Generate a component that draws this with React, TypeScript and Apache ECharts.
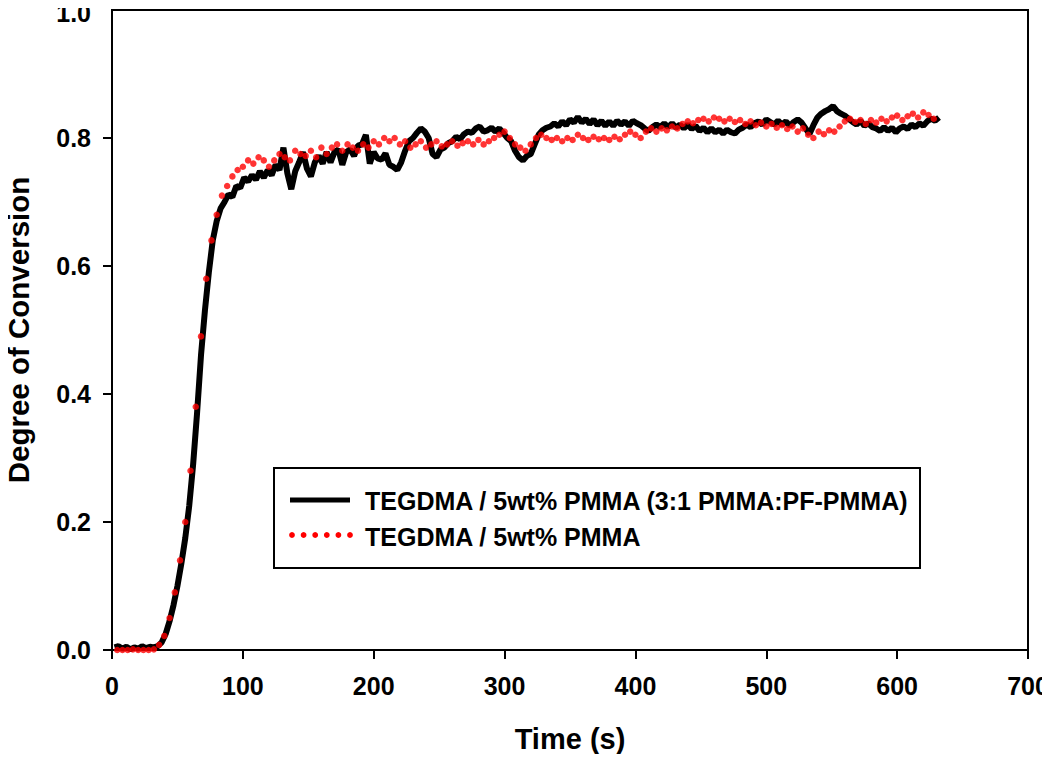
import React, { useEffect, useRef } from "react";
import * as echarts from "echarts";

// X ticks / Y ticks
const X_MIN = 0, X_MAX = 700, X_STEP = 100;
const Y_MIN = 0, Y_MAX = 1.0, Y_STEP = 0.2;

const X_TITLE = "Time (s)";
const Y_TITLE = "Degree of Conversion";
const SERIES_NAMES = ["TEGDMA / 5wt% PMMA (3:1 PMMA:PF-PMMA)", "TEGDMA / 5wt% PMMA"];

// Black series: sampled every 3 s starting at 2 s
const BLACK_T0 = 2, BLACK_DT = 3;
const blackValues = [
  0.004, 0.006, 0.002, 0.005, 0.001, 0.004, 0.002, 0.006, 0.003, 0.005, 0.004, 0.006,
  0.012, 0.025, 0.045, 0.07, 0.10, 0.135, 0.175, 0.225, 0.29, 0.37, 0.46, 0.53, 0.59, 0.64, 0.67,
  0.69, 0.70, 0.712, 0.708, 0.725, 0.722, 0.738,
  0.732, 0.742, 0.735, 0.748, 0.738, 0.75, 0.742, 0.758, 0.75, 0.785, 0.745, 0.72, 0.748, 0.762, 0.778,
  0.752, 0.74, 0.762, 0.772, 0.76, 0.778, 0.762, 0.778, 0.782, 0.758, 0.778, 0.782, 0.772, 0.788, 0.79,
  0.805, 0.76, 0.778, 0.768, 0.766, 0.776, 0.758, 0.755, 0.75, 0.762, 0.78, 0.795, 0.80, 0.808, 0.815,
  0.81, 0.80, 0.775, 0.77, 0.782, 0.785, 0.792, 0.795, 0.802, 0.798, 0.806, 0.81, 0.808, 0.815, 0.818,
  0.81, 0.812, 0.816, 0.81, 0.815, 0.808, 0.80, 0.795, 0.78, 0.77, 0.765, 0.772, 0.775, 0.79, 0.805,
  0.812, 0.816, 0.818, 0.823, 0.818, 0.826, 0.82, 0.829, 0.824, 0.833, 0.824, 0.83, 0.822, 0.829,
  0.82, 0.827, 0.819, 0.826, 0.819, 0.827, 0.821, 0.826, 0.819, 0.827, 0.823, 0.82, 0.815, 0.811,
  0.817, 0.821, 0.817, 0.823, 0.817, 0.823, 0.816, 0.821, 0.815, 0.821, 0.814, 0.819, 0.811, 0.816,
  0.809, 0.815, 0.809, 0.813, 0.807, 0.813, 0.809, 0.807, 0.813, 0.816, 0.821, 0.817, 0.823, 0.826,
  0.821, 0.829, 0.825, 0.821, 0.827, 0.821, 0.826, 0.819, 0.825, 0.829, 0.824, 0.815, 0.806, 0.82,
  0.832, 0.838, 0.842, 0.845, 0.85, 0.842, 0.838, 0.835, 0.83, 0.825, 0.821, 0.827, 0.819, 0.823,
  0.817, 0.815, 0.811, 0.817, 0.811, 0.816, 0.809, 0.815, 0.818, 0.814, 0.821, 0.817, 0.823, 0.819,
  0.826, 0.83, 0.827, 0.832,
];

// Red series: sampled every 4 s starting at 4 s
const RED_T0 = 4, RED_DT = 4;
const redValues = [
  0.0, 0.0, 0.0, 0.001, 0.0, 0.0, 0.0, 0.001, 0.008, 0.022, 0.05, 0.09, 0.14, 0.20, 0.28, 0.38,
  0.49, 0.58, 0.64, 0.68, 0.71, 0.725, 0.74, 0.75, 0.755, 0.765, 0.76, 0.77, 0.765, 0.755, 0.765,
  0.775, 0.77, 0.765, 0.78, 0.775, 0.772, 0.78, 0.77, 0.785, 0.775, 0.785, 0.79, 0.78, 0.79, 0.785,
  0.78, 0.79, 0.785, 0.795, 0.79, 0.80, 0.795, 0.80, 0.79, 0.795, 0.785, 0.79, 0.795, 0.785, 0.79,
  0.795, 0.787, 0.79, 0.795, 0.788, 0.792, 0.795, 0.79, 0.797, 0.79, 0.795, 0.80, 0.805, 0.81, 0.80,
  0.79, 0.785, 0.78, 0.79, 0.80, 0.805, 0.80, 0.797, 0.80, 0.795, 0.80, 0.797, 0.805, 0.80, 0.797,
  0.802, 0.798, 0.80, 0.797, 0.802, 0.798, 0.805, 0.81, 0.805, 0.80, 0.81, 0.815, 0.81, 0.815, 0.812,
  0.818, 0.815, 0.822, 0.826, 0.823, 0.828, 0.83, 0.826, 0.832, 0.83, 0.826, 0.83, 0.825, 0.828,
  0.822, 0.826, 0.82, 0.824, 0.818, 0.822, 0.816, 0.82, 0.814, 0.818, 0.81, 0.815, 0.805, 0.80,
  0.81, 0.806, 0.812, 0.81, 0.818, 0.826, 0.83, 0.825, 0.828, 0.822, 0.828, 0.824, 0.83, 0.826,
  0.832, 0.835, 0.828, 0.834, 0.838, 0.832, 0.84, 0.836, 0.83,
];

const FONT = "'Liberation Sans', Arial, sans-serif";

export default function App() {
  const ref = useRef<HTMLDivElement>(null);
  useEffect(() => {
    if (!ref.current) return;
    const chart = echarts.init(ref.current, undefined, { renderer: "svg" });
    const blackData = blackValues.map((v, i) => [BLACK_T0 + i * BLACK_DT, v]);
    const redData = redValues.map((v, i) => [RED_T0 + i * RED_DT, v]);
    const lx = 274, ly = 468, lw = 646, lh = 100;
    const dots = [0, 1, 2, 3, 4, 5].map((k) => ({
      type: "circle",
      shape: { cx: 292 + k * 11.6, cy: 535, r: 2.9 },
      style: { fill: "#ff0000" },
    }));
    chart.setOption({
      animation: false,
      backgroundColor: "#fff",
      grid: {
        left: 112, top: 10, right: 22, bottom: 112,
        outerBoundsMode: "none",
        containLabel: false,
        show: true, borderColor: "#000", borderWidth: 2, backgroundColor: "transparent",
      },
      xAxis: {
        type: "value", min: X_MIN, max: X_MAX, interval: X_STEP,
        name: X_TITLE, nameLocation: "middle", nameGap: 76,
        nameTextStyle: { fontFamily: FONT, fontWeight: "bold", fontSize: 29, lineHeight: 26, color: "#000" },
        axisLine: { show: true, lineStyle: { color: "#000", width: 2 } },
        axisTick: { show: true, inside: false, length: 9, lineStyle: { color: "#000", width: 2 } },
        axisLabel: { margin: 23, fontFamily: FONT, fontWeight: "bold", fontSize: 25, color: "#000" },
        splitLine: { show: false },
      },
      yAxis: {
        type: "value", min: Y_MIN, max: Y_MAX, interval: Y_STEP,
        name: Y_TITLE, nameLocation: "middle", nameGap: 79,
        nameTextStyle: { fontFamily: FONT, fontWeight: "bold", fontSize: 29.5, color: "#000" },
        axisLine: { show: true, lineStyle: { color: "#000", width: 2 } },
        axisTick: { show: true, inside: false, length: 9, lineStyle: { color: "#000", width: 2 } },
        axisLabel: {
          margin: 21, fontFamily: FONT, fontWeight: "bold", fontSize: 25, color: "#000",
          showMaxLabel: false,
          formatter: (v: number) => (v >= Y_MAX - 1e-9 ? "" : v.toFixed(1)),
        },
        splitLine: { show: false },
      },
      series: [
        {
          name: SERIES_NAMES[0], type: "line", data: blackData, showSymbol: false, smooth: false,
          lineStyle: { color: "#000", width: 6 }, z: 2,
        },
        {
          name: SERIES_NAMES[1], type: "scatter", data: redData, symbol: "circle", symbolSize: 6.5,
          itemStyle: { color: "#ff0000" }, z: 3,
        },
      ],
      graphic: [
        {
          type: "text", x: 91, y: 0, z: 11,
          style: {
            text: Y_MAX.toFixed(1), fontFamily: FONT, fontWeight: "bold", fontSize: 25,
            fill: "#000", align: "right", verticalAlign: "top",
          },
        },
        {
          type: "rect", shape: { x: lx, y: ly, width: lw, height: lh },
          style: { fill: "#fff", stroke: "#000", lineWidth: 2 }, z: 10,
        },
        {
          type: "line", shape: { x1: 290, y1: 500, x2: 350, y2: 500 },
          style: { stroke: "#000", lineWidth: 5 }, z: 11,
        },
        ...dots.map((d) => ({ ...d, z: 11 })),
        {
          type: "text", x: 365, y: 501, z: 11,
          style: {
            text: SERIES_NAMES[0], fontFamily: FONT, fontWeight: "bold", fontSize: 25,
            fill: "#000", verticalAlign: "middle",
          },
        },
        {
          type: "text", x: 365, y: 537, z: 11,
          style: {
            text: SERIES_NAMES[1], fontFamily: FONT, fontWeight: "bold", fontSize: 25,
            fill: "#000", verticalAlign: "middle",
          },
        },
      ],
    });
    return () => chart.dispose();
  }, []);
  return <div ref={ref} style={{ width: 1050, height: 762, margin: -8 }} />;
}
